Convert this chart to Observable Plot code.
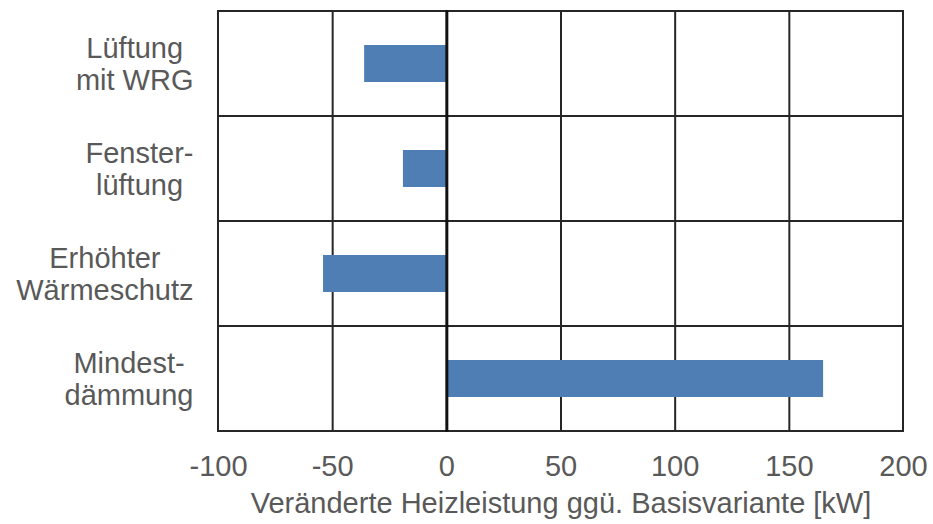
<!DOCTYPE html>
<html>
<head>
<meta charset="utf-8">
<script src="https://cdn.jsdelivr.net/npm/d3@7"></script>
<script src="https://cdn.jsdelivr.net/npm/@observablehq/plot@0.6"></script>
<style>
  html, body { margin: 0; padding: 0; background: #fff; }
</style>
</head>
<body>
<div id="chart"></div>
<script>
// Heating load change per variant relative to the base case (kW)
const categories = ["Lüftung\nmit WRG", "Fenster-\nlüftung", "Erhöhter\nWärmeschutz", "Mindest-\ndämmung"];
const values = [-36, -19, -54, 165];
const xTicks = [-100, -50, 0, 50, 100, 150, 200];
const xLabel = "Veränderte Heizleistung ggü. Basisvariante [kW]";

const data = categories.map((c, i) => ({category: c, value: values[i]}));
const gridColor = "#262626";
const textColor = "#595959";
const fontFamily = "'Liberation Sans', Arial, sans-serif";
const fontSize = 29;

// Category labels: each block sits right-aligned next to the frame,
// with its lines centred inside the block.
const ctx = document.createElement("canvas").getContext("2d");
ctx.font = `${fontSize}px ${fontFamily}`;
const blockWidth = c => d3.max(c.split("\n"), line => ctx.measureText(line).width);
const labelGap = 25;

const chart = Plot.plot({
  width: 933,
  height: 524,
  marginLeft: 218,
  marginRight: 30,
  marginTop: 10,
  marginBottom: 92,
  style: {fontFamily, fontSize: `${fontSize}px`, background: "#fff"},
  x: {domain: [-100, 200], ticks: xTicks},
  y: {domain: categories, padding: 0},
  marks: [
    // one box per category: forms the frame and the horizontal separators
    Plot.cell(categories, {y: d => d, fill: "none", stroke: gridColor, strokeWidth: 2}),
    Plot.ruleX(xTicks.filter(t => t !== 0 && t !== -100 && t !== 200), {stroke: gridColor, strokeWidth: 2}),
    Plot.barX(data, {x: "value", y: "category", fill: "#4f7eb5", insetTop: 34, insetBottom: 34}),
    Plot.ruleX([0], {stroke: "#111", strokeWidth: 3}),
    Plot.axisX({
      ticks: xTicks, tickSize: 0, tickPadding: 23, fill: textColor,
      tickFormat: d => `${d}`,
      label: xLabel, labelAnchor: "center", labelOffset: 80, labelArrow: "none"
    }),
    ...categories.map(c => Plot.axisY([c], {
      tickSize: 0, tickPadding: labelGap + blockWidth(c) / 2, textAnchor: "middle",
      fill: textColor, lineHeight: 1.09, label: null
    }))
  ]
});

document.getElementById("chart").appendChild(chart);
</script>
</body>
</html>
